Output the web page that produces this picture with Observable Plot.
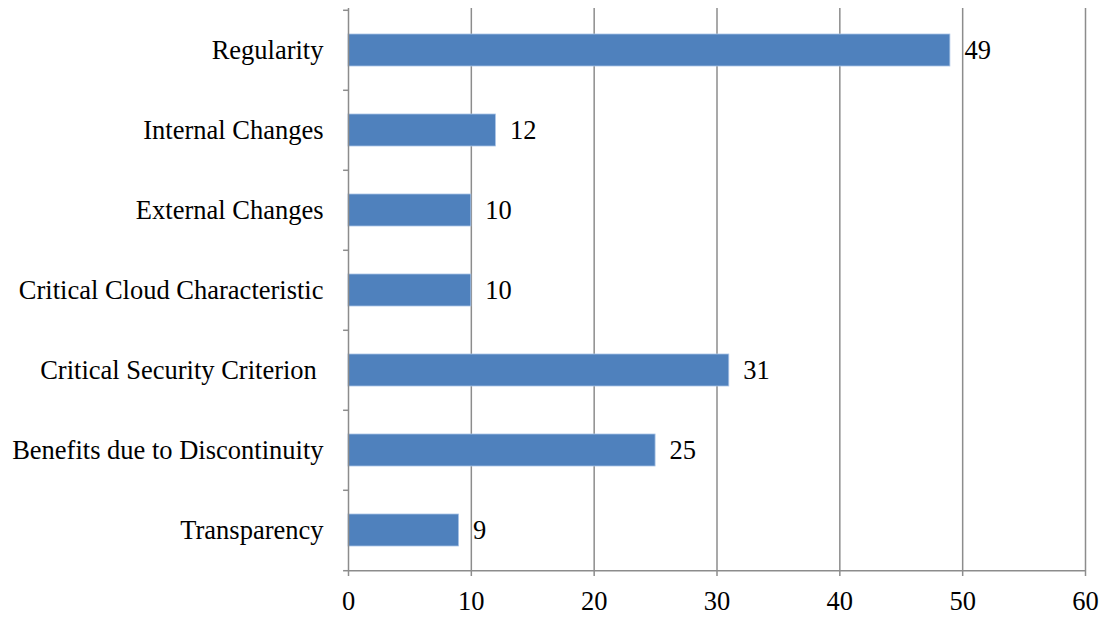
<!DOCTYPE html>
<html>
<head>
<meta charset="utf-8">
<script src="https://cdn.jsdelivr.net/npm/d3@7"></script>
<script src="https://cdn.jsdelivr.net/npm/@observablehq/plot@0.6"></script>
<style>
  html, body { margin: 0; padding: 0; background: #fff; }
  svg text { white-space: pre; }
</style>
</head>
<body>
<div id="chart"></div>
<script>
const categories = [
  "Regularity",
  "Internal Changes",
  "External Changes",
  "Critical Cloud Characteristic",
  "Critical Security Criterion ",
  "Benefits due to Discontinuity",
  "Transparency"
];
const values = [49, 12, 10, 10, 31, 25, 9];
const xTicks = [0, 10, 20, 30, 40, 50, 60];

const data = categories.map((c, i) => ({category: c, value: values[i]}));

const W = 1117, H = 617;
const mTop = 8, mBottom = 46;
const step = (H - mTop - mBottom) / categories.length;
const grey = "#8c8c8c";
const fs = 26.5;

const chart = Plot.plot({
  width: W,
  height: H,
  marginLeft: 348,
  marginRight: 32,
  marginTop: mTop,
  marginBottom: mBottom,
  style: {fontFamily: "'Liberation Serif', 'Times New Roman', serif", fontSize: fs + "px", color: "#000", background: "#fff"},
  x: {domain: [0, 60], ticks: xTicks},
  y: {domain: categories, paddingInner: 0.6, paddingOuter: 0.3},
  marks: [
    Plot.gridX(xTicks.filter(t => t > 0), {stroke: grey, strokeOpacity: 1, strokeWidth: 1.5}),
    Plot.barX(data, {x: "value", y: "category", fill: "#4f81bd", stroke: "#a9c4e6", strokeWidth: 0.8}),
    Plot.text(data, {x: "value", y: "category", text: d => String(d.value), textAnchor: "start", dx: 14, fill: "#000", fontSize: fs}),
    Plot.ruleX([0], {stroke: grey, strokeWidth: 1.5}),
    Plot.ruleY(categories, {y: d => d, x1: -0.4, x2: 0, dy: -step / 2, stroke: grey, strokeWidth: 1.5}),
    Plot.ruleY([categories[categories.length - 1]], {y: d => d, x1: -0.4, x2: 0, dy: step / 2, stroke: grey, strokeWidth: 1.5}),
    Plot.axisX({ticks: xTicks, tickSize: 5, tickPadding: 15, stroke: grey, strokeWidth: 1.5, fill: "#000", label: null, fontSize: fs}),
    Plot.ruleY([categories[categories.length - 1]], {y: d => d, x1: 0, x2: 60, dy: step / 2, stroke: grey, strokeWidth: 1.5}),
    Plot.axisY({tickSize: 0, tickPadding: 25, label: null, fill: "#000", fontSize: fs})
  ]
});
document.getElementById("chart").appendChild(chart);
</script>
</body>
</html>
